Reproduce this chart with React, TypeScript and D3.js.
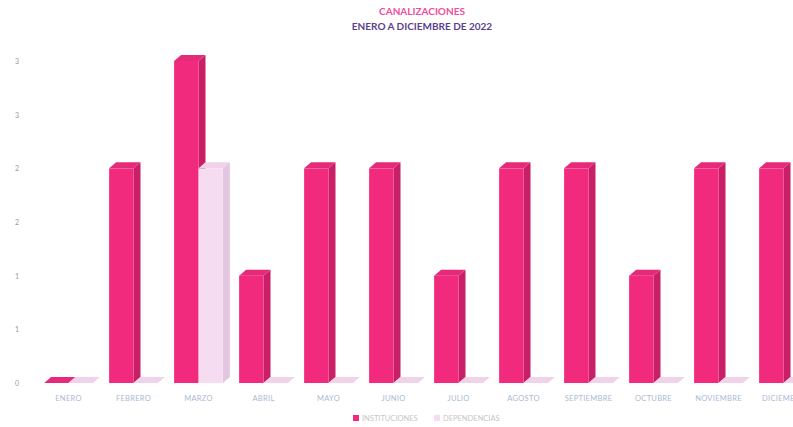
import React from "react";
import * as d3 from "d3";

const months = ["ENERO","FEBRERO","MARZO","ABRIL","MAYO","JUNIO","JULIO","AGOSTO","SEPTIEMBRE","OCTUBRE","NOVIEMBRE","DICIEMBRE"];
const seriesNames = ["INSTITUCIONES", "DEPENDENCIAS"];
const series1 = [0, 2, 3, 1, 2, 2, 1, 2, 2, 1, 2, 2];
const series2 = [0, 0, 2, 0, 0, 0, 0, 0, 0, 0, 0, 0];
const tickValues = [0, 0.5, 1, 1.5, 2, 2.5, 3];
const tickLabels = ["0", "1", "1", "2", "2", "3", "3"];

const W = 793, H = 427;
const DX = 7, DY = 6;

const colors = [
  { front: "#f22a7e", side: "#c81f66", top: "#e42a78" },
  { front: "#f6dcf0", side: "#e3c6df", top: "#f0d2ea" },
];

export default function App() {
  const x = d3.scaleBand<string>().domain(months).range([36, 816]).paddingInner(0.25).paddingOuter(0.125);
  const xi = d3.scaleBand<number>().domain([0, 1]).range([0, x.bandwidth()]);
  const y = d3.scaleLinear().domain([0, 3]).range([383, 61]);
  const data = [series1, series2];
  const bars: React.ReactElement[] = [];
  // draw back-to-front per month: series order left to right
  months.forEach((m, i) => {
    data.forEach((s, si) => {
      const v = s[i];
      const x0 = (x(m) as number) + (xi(si) as number);
      const w = xi.bandwidth();
      const y0 = y(0);
      const y1 = y(v);
      const c = colors[si];
      const key = `${m}-${si}`;
      bars.push(
        <g key={key}>
          {v > 0 && (
            <polygon
              points={`${x0 + w},${y1} ${x0 + w + DX},${y1 - DY} ${x0 + w + DX},${y0 - DY} ${x0 + w},${y0}`}
              fill={c.side}
            />
          )}
          <polygon
            points={`${x0},${y1} ${x0 + DX},${y1 - DY} ${x0 + w + DX},${y1 - DY} ${x0 + w},${y1}`}
            fill={c.top}
          />
          {v > 0 && <rect x={x0} y={y1} width={w} height={y0 - y1} fill={c.front} />}
        </g>
      );
    });
  });

  return (
    <svg width={W} height={H} style={{ position: "absolute", left: 0, top: 0, background: "#fff" }}>
      <text x={422} y={15} textAnchor="middle" fontFamily="Lato, 'Open Sans', sans-serif" fontWeight="bold" fontSize={10} fill="#f04d9e">
        CANALIZACIONES
      </text>
      <text x={422} y={30} textAnchor="middle" fontFamily="Lato, 'Open Sans', sans-serif" fontWeight="bold" fontSize={10} fill="#5b3f8f">
        ENERO A DICIEMBRE DE 2022
      </text>
      {tickValues.map((t, i) => (
        <text key={t} x={17} y={y(t) + 3} textAnchor="middle" fontFamily="Lato, sans-serif" fontSize={7} fill="#9a9a9a">
          {tickLabels[i]}
        </text>
      ))}
      {bars}
      {months.map((m) => (
        <text key={m} x={(x(m) as number) + x.bandwidth() / 2} y={401} textAnchor="middle" fontFamily="Lato, sans-serif" fontSize={7.5} fill="#a9bad3" letterSpacing={0.3}>
          {m}
        </text>
      ))}
      <rect x={353} y={415} width={6} height={6} fill={colors[0].front} />
      <text x={362} y={421} fontFamily="Lato, sans-serif" fontSize={7.5} fill="#c6c6c6">{seriesNames[0]}</text>
      <rect x={434} y={415} width={6} height={6} fill={colors[1].front} />
      <text x={443} y={421} fontFamily="Lato, sans-serif" fontSize={7.5} fill="#c6c6c6">{seriesNames[1]}</text>
    </svg>
  );
}
